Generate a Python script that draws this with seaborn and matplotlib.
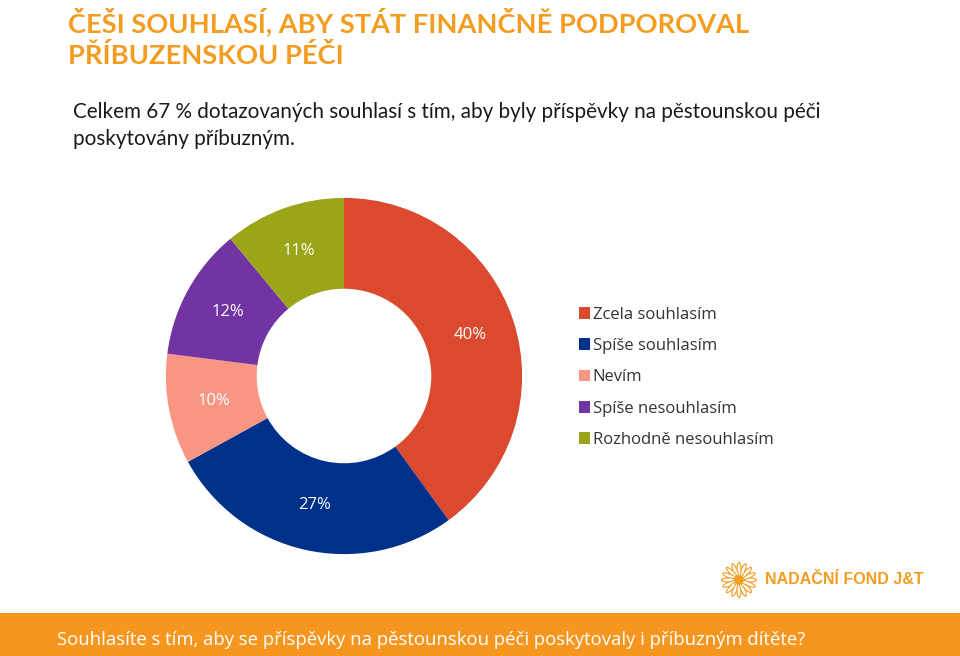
import matplotlib
matplotlib.use("Agg")
import matplotlib.pyplot as plt
import seaborn as sns
import numpy as np
from matplotlib.patches import Rectangle, Ellipse, Circle

categories = ["Zcela souhlasím", "Spíše souhlasím", "Nevím", "Spíše nesouhlasím", "Rozhodně nesouhlasím"]
values = [40, 27, 10, 12, 11]
colors = ["#DB4A2E", "#00318A", "#F89683", "#7334A3", "#9AA617"]

title_lines = ["ČEŠI SOUHLASÍ, ABY STÁT FINANČNĚ PODPOROVAL", "PŘÍBUZENSKOU PÉČI"]
subtitle_lines = ["Celkem 67 % dotazovaných souhlasí s tím, aby byly příspěvky na pěstounskou péči",
                  "poskytovány příbuzným."]
question = "Souhlasíte s tím, aby se příspěvky na pěstounskou péči poskytovaly i příbuzným dítěte?"
logo_text = "NADAČNÍ FOND J&T"

sns.set_theme(style="white")
plt.rcParams['font.family'] = ['Lato', 'DejaVu Sans']
palette = sns.color_palette(colors)

W, H = 960, 656
fig = plt.figure(figsize=(9.6, 6.56), dpi=100)
fig.patch.set_facecolor("white")
renderer = fig.canvas.get_renderer()

def fx(x):
    return x / W

def fy(y):
    return 1 - y / H

def fit(t, target_px):
    w = t.get_window_extent(renderer).width
    t.set_fontsize(t.get_fontsize() * target_px / w)
    return t.get_fontsize()

orange = "#F39C1F"
# title
t1 = fig.text(fx(68), fy(32), title_lines[0], fontsize=20, fontweight="bold", color=orange, va="baseline",
              family=["Lato", "DejaVu Sans"])
fs = fit(t1, 680)
fig.text(fx(68), fy(64), title_lines[1], fontsize=fs, fontweight="bold", color=orange, va="baseline",
         family=["Lato", "DejaVu Sans"])
# subtitle
s1 = fig.text(fx(73), fy(118), subtitle_lines[0], fontsize=15, color="#1a1a1a", va="baseline",
              family=["Lato", "DejaVu Sans"])
fs2 = fit(s1, 749)
fig.text(fx(73), fy(145), subtitle_lines[1], fontsize=fs2, color="#1a1a1a", va="baseline",
         family=["Lato", "DejaVu Sans"])

# donut
cx, cy, r = 344, 376, 179
ax = fig.add_axes([fx(cx - r), fy(cy + r), (2 * r) / W, (2 * r) / H])
wedges, texts, autotexts = ax.pie(values, colors=palette, startangle=90, counterclock=False,
                                  radius=1, wedgeprops=dict(width=0.51, edgecolor="none"),
                                  autopct=lambda p: f"{p:.0f}%", pctdistance=0.745,
                                  textprops=dict(color="white", fontsize=12, family=["Open Sans", "DejaVu Sans"]))
ax.set_xlim(-1.005, 1.005)
ax.set_ylim(-1.005, 1.005)
ax.set_aspect("equal")
ax.axis("off")

leg = fig.legend(wedges, categories, loc="upper left", bbox_to_anchor=(fx(567), fy(295)),
                 frameon=False, handlelength=0.7, handleheight=0.7, handletextpad=0.15,
                 labelspacing=0.92, borderpad=0.2, prop=dict(family=["Open Sans", "DejaVu Sans"], size=12))
for t in leg.get_texts():
    t.set_color("#333333")

# logo
lx, ly = 739, 580
lax = fig.add_axes([fx(lx - 18), fy(ly + 18), 36 / W, 36 / H])
lax.set_xlim(-1, 1); lax.set_ylim(-1, 1); lax.set_aspect("equal"); lax.axis("off")
for a in np.arange(0, 360, 22.5):
    rad = np.deg2rad(a)
    lax.add_patch(Ellipse((0.55 * np.cos(rad), 0.55 * np.sin(rad)), 0.85, 0.22, angle=a,
                          facecolor="white", edgecolor=orange, linewidth=0.8))
lax.add_patch(Circle((0, 0), 0.22, color=orange))
fig.text(fx(765), fy(580), logo_text, fontsize=11.5, fontweight="bold", color=orange, va="center",
         family=["Liberation Sans", "DejaVu Sans"])

# bottom bar
fig.patches.append(Rectangle((0, 0), 1, 43 / H, transform=fig.transFigure, facecolor="#F7961F",
                             edgecolor="none", zorder=0))
q = fig.text(fx(57), fy(640), question, fontsize=14.5, color="white", va="center",
             family=["Open Sans", "DejaVu Sans"])
fit(q, 751)

fig.savefig("out.png", dpi=100)
